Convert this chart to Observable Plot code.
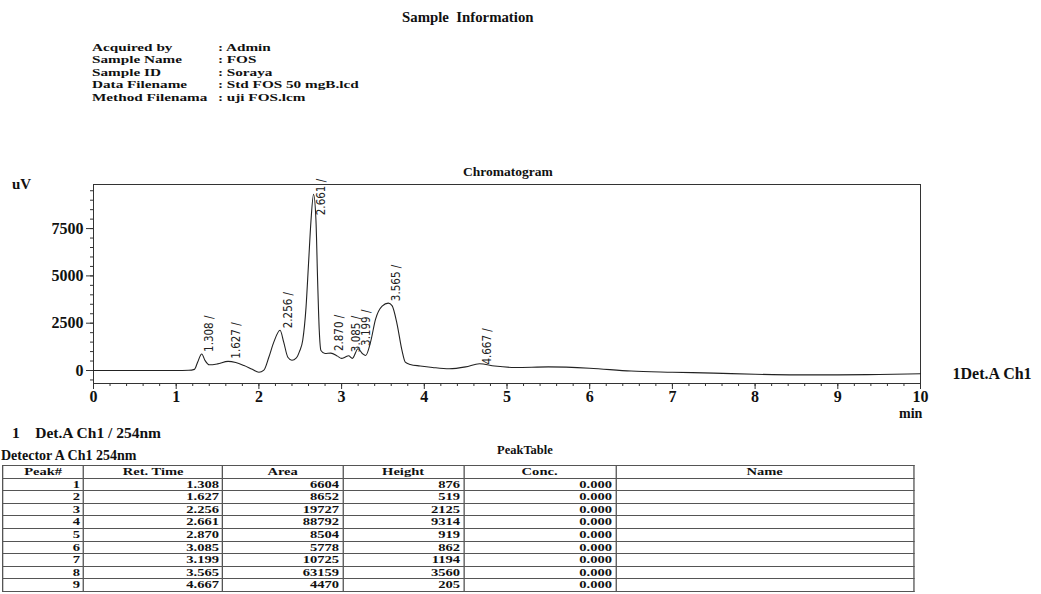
<!DOCTYPE html>
<html><head><meta charset="utf-8">
<script src="https://cdn.jsdelivr.net/npm/d3@7"></script>
<script src="https://cdn.jsdelivr.net/npm/@observablehq/plot@0.6"></script>
<style>
html,body{margin:0;padding:0;background:#fff;}
#page{position:relative;width:1041px;height:594px;overflow:hidden;font-family:"Liberation Serif","Times New Roman",serif;font-weight:bold;color:#111;}
.abs{position:absolute;white-space:nowrap;line-height:16px;}
#info{position:absolute;left:92px;top:40.75px;font-size:11.2px;transform:scaleX(1.36);transform-origin:0 0;}
#info .row{display:flex;height:12.5px;line-height:12.5px;white-space:nowrap;}
#info .k{width:92.6px;}
#tbl{position:absolute;left:2px;top:465px;border-collapse:collapse;table-layout:fixed;width:700.8px;transform:scaleX(1.3);transform-origin:0 0;}
#tbl td,#tbl th{border:1px solid #555;padding:0 2.3px;height:11.6px;line-height:11.6px;font-size:11.2px;text-align:right;overflow:hidden;white-space:nowrap;}
#tbl th{text-align:center;font-weight:bold;}
#chart{position:absolute;left:0;top:160px;}
</style></head><body><div id="page">
<div class="abs" style="left:402px;top:8.7px;font-size:14.8px;">Sample&nbsp; Information</div>
<div id="info"></div>
<div class="abs" style="left:463px;top:164px;font-size:13.5px;">Chromatogram</div>
<div id="chart"></div>
<div class="abs" style="left:12px;top:176px;font-size:15px;">uV</div>
<div class="abs" style="left:899px;top:405.5px;font-size:14px;">min</div>
<div class="abs" style="left:12px;top:425px;font-size:15.5px;">1&nbsp;&nbsp;&nbsp; Det.A Ch1 / 254nm</div>
<div class="abs" style="left:497px;top:442px;font-size:12.5px;">PeakTable</div>
<div class="abs" style="left:1px;top:447.5px;font-size:14px;">Detector A Ch1 254nm</div>
<table id="tbl"></table>
</div>
<script>
// ---- Data ----
const infoLabels = ["Acquired by", "Sample Name", "Sample ID", "Data Filename", "Method Filenama"];
const infoValues = ["Admin", "FOS", "Soraya", "Std FOS 50 mgB.lcd", "uji FOS.lcm"];

// Chromatogram trace (min, uV)
const traceTime = [0, 0.5, 1.0, 1.15, 1.22, 1.26, 1.308, 1.35, 1.40, 1.50, 1.627, 1.72, 1.82, 1.92, 2.00, 2.06, 2.12, 2.18, 2.256, 2.30, 2.35, 2.40, 2.45, 2.49, 2.53, 2.57, 2.60, 2.63, 2.661, 2.69, 2.71, 2.73, 2.75, 2.80, 2.870, 2.95, 3.00, 3.04, 3.085, 3.13, 3.199, 3.25, 3.29, 3.35, 3.41, 3.49, 3.565, 3.61, 3.67, 3.73, 3.77, 3.83, 3.95, 4.10, 4.30, 4.50, 4.667, 4.85, 5.10, 5.50, 6.00, 6.50, 7.00, 7.50, 8.00, 8.50, 9.00, 9.50, 10.00];
const traceUV = [0, 0, 0, 10, 60, 450, 876, 520, 300, 350, 480, 420, 260, 60, -90, 20, 700, 1500, 2125, 1500, 700, 540, 650, 1000, 1600, 3350, 5640, 7930, 9314, 7930, 4760, 2110, 1060, 900, 919, 760, 640, 700, 780, 640, 1150, 900, 790, 1500, 2700, 3400, 3560, 3430, 2470, 1060, 440, 320, 240, 160, 90, 190, 360, 240, 160, 190, 120, -30, -90, -140, -200, -230, -230, -210, -175];

// Peak table
const tableColumns = ["Peak#", "Ret. Time", "Area", "Height", "Conc.", "Name"];
const peakNo = [1, 2, 3, 4, 5, 6, 7, 8, 9];
const retTime = [1.308, 1.627, 2.256, 2.661, 2.870, 3.085, 3.199, 3.565, 4.667];
const peakArea = [6604, 8652, 19727, 88792, 8504, 5778, 10725, 63159, 4470];
const peakHeight = [876, 519, 2125, 9314, 919, 862, 1194, 3560, 205];
const peakConc = [0, 0, 0, 0, 0, 0, 0, 0, 0];
const peakName = ["", "", "", "", "", "", "", "", ""];

const yTicks = [0, 2500, 5000, 7500];
const xTicks = [0, 1, 2, 3, 4, 5, 6, 7, 8, 9, 10];
const channelLabel = "1Det.A Ch1";

// ---- Header info ----
document.getElementById("info").innerHTML = infoLabels.map((k, i) =>
  `<div class="row"><span class="k">${k}</span><span>: ${infoValues[i]}</span></div>`).join("");

// ---- Chart ----
const trace = traceTime.map((t, i) => ({t, v: traceUV[i]}));
const peaks = retTime.map((t, i) => ({t, h: peakHeight[i]}));
const last = trace[trace.length - 1];

const chart = Plot.plot({
  width: 1041, height: 262,
  marginLeft: 93, marginRight: 121, marginTop: 24, marginBottom: 39,
  x: {domain: [0, 10]},
  y: {domain: [-687, 9830]},
  style: {fontFamily: "'Liberation Serif','Times New Roman',serif", fontWeight: "bold", fontSize: "16px", color: "#111", background: "transparent", overflow: "visible"},
  marks: [
    Plot.frame({stroke: "#333", strokeWidth: 1}),
    Plot.axisY(d3.range(-500, 9800, 500), {tickSize: 3, tickFormat: () => "", label: null, stroke: "#333"}),
    Plot.axisY(yTicks, {tickSize: 7, tickPadding: 3, tickFormat: d => String(d), label: null, stroke: "#333", fill: "#111", fontSize: 16}),
    Plot.axisX(d3.range(0, 10.001, 0.2), {tickSize: 3, tickFormat: () => "", label: null, stroke: "#333"}),
    Plot.axisX(xTicks, {tickSize: 6, tickPadding: 1, tickFormat: d => String(d), label: null, stroke: "#333", fill: "#111", fontSize: 16}),
    Plot.line(trace, {x: "t", y: "v", stroke: "#222", strokeWidth: 1.1, curve: "monotone-x"}),
    Plot.text(peaks, {
      x: "t", y: d => Math.min(d.h, 8100), text: d => d.t.toFixed(3) + " /",
      rotate: -90, textAnchor: "start", dx: 8, dy: -2,
      fontFamily: "'Liberation Sans Narrow','DejaVu Sans Condensed','Arial Narrow',sans-serif",
      fontWeight: "normal", fontSize: 11.5, fill: "#222"
    }),
    Plot.text([last], {x: "t", y: "v", text: () => channelLabel, textAnchor: "start", dx: 32, fontSize: 16, fill: "#111"})
  ]
});
document.getElementById("chart").appendChild(chart);

// ---- Peak table ----
const colW = [81, 139, 120, 121, 152, 298].map(w => w / 1.3);
let html = "<colgroup>" + colW.map(w => `<col style="width:${w}px">`).join("") + "</colgroup>";
html += "<tr>" + tableColumns.map(c => `<th>${c}</th>`).join("") + "</tr>";
peakNo.forEach((n, i) => {
  html += `<tr><td>${n}</td><td>${retTime[i].toFixed(3)}</td><td>${peakArea[i]}</td><td>${peakHeight[i]}</td><td>${peakConc[i].toFixed(3)}</td><td>${peakName[i]}</td></tr>`;
});
document.getElementById("tbl").innerHTML = html;
</script>
</body></html>
